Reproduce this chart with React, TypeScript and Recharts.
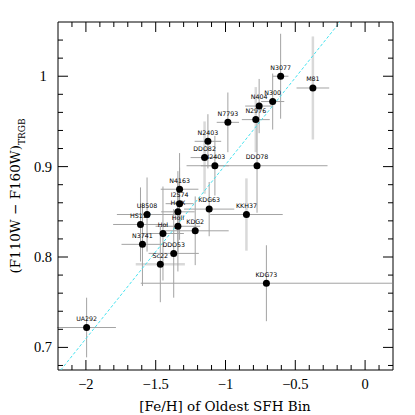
import { ComposedChart, Scatter, XAxis, YAxis, ErrorBar } from 'recharts';

// galaxies, in the order
const galaxies = ['UA292', 'N3741', 'HS117', 'U8508', 'HoI', 'DDO53', 'Sc22', 'N4163', 'I2574', 'HoIX', 'HoII', 'KDG2', 'KDG63', 'KKH37', 'KDG73', 'DDO78', 'N2403', 'DDO82', 'N2403', 'N7793', 'N2976', 'N404', 'N300', 'N3077', 'M81'];
const feh = [-1.995, -1.595, -1.609, -1.562, -1.448, -1.371, -1.467, -1.329, -1.329, -1.341, -1.341, -1.217, -1.117, -0.85, -0.707, -0.774, -1.076, -1.15, -1.126, -0.983, -0.783, -0.759, -0.662, -0.605, -0.374];
const trgbColor = [0.722, 0.814, 0.836, 0.847, 0.826, 0.804, 0.792, 0.875, 0.859, 0.85, 0.834, 0.829, 0.853, 0.847, 0.771, 0.901, 0.901, 0.91, 0.928, 0.949, 0.952, 0.967, 0.972, 1.0, 0.987];
const fehErr = [0.21, 0.15, 0.196, 0.216, 0.15, 0.18, 0.176, 0.135, 0.1, 0.12, 0.16, 0.24, 0.18, 0.26, 0.9, 0.505, 0.1, 0.1, 0.095, 0.08, 0.1, 0.1, 0.083, 0.056, 0.117];
const colorErr = [0.033, 0.046, 0.041, 0.041, 0.052, 0.049, 0.042, 0.04, 0.04, 0.045, 0.05, 0.038, 0.03, 0.04, 0.042, 0.052, 0.033, 0.04, 0.03, 0.033, 0.036, 0.03, 0.031, 0.047, 0.057];
// bars drawn in the pale grey
const faintFehErr = ['Sc22'];
const faintColorErr = ['DDO82', 'N2976', 'KKH37', 'M81'];

// dashed reference line
const fitFeh = [-2.18, -0.18];
const fitColor = [0.675, 1.06];

const xTicks = [-2.1, -2, -1.9, -1.8, -1.7, -1.6, -1.5, -1.4, -1.3, -1.2, -1.1, -1, -0.9, -0.8, -0.7, -0.6, -0.5, -0.4, -0.3, -0.2, -0.1, 0, 0.1];
const yTicks = [0.68, 0.7, 0.72, 0.74, 0.76, 0.78, 0.8, 0.82, 0.84, 0.86, 0.88, 0.9, 0.92, 0.94, 0.96, 0.98, 1, 1.02, 1.04];

const points = galaxies.map((name, i) => ({
    name,
    x: feh[i],
    y: trgbColor[i],
    ex: fehErr[i],
    ey: colorErr[i],
    faintX: faintFehErr.includes(name),
    faintY: faintColorErr.includes(name),
}));
const fitData = fitFeh.map((x, i) => ({ x, y: fitColor[i] }));

const TICK_FONT = 'Liberation Serif';
const TITLE_FONT = 'DejaVu Serif';
const DARK_BAR = '#a3a3a3';
const PALE_BAR = '#d9d9d9';

const isMajorX = (v: number) => Math.abs(v * 2 - Math.round(v * 2)) < 1e-6;
const isMajorY = (v: number) => Math.abs(v * 10 - Math.round(v * 10)) < 1e-6;
const fmtX = (v: number) => (v < 0 ? '\u2212' + String(Math.abs(v)) : String(v));
const fmtY = (v: number) => (Math.abs(v - 1) < 1e-6 ? '1' : v.toFixed(1));

const BottomTick = (p: any) => {
    const v = p.payload.value;
    const major = isMajorX(v);
    return (
        <g>
            <line x1={p.x} x2={p.x} y1={p.y} y2={p.y - (major ? 10 : 5)} stroke="#000" />
            {major && (
                <text x={p.x} y={p.y + 19} textAnchor="middle" fontFamily={TICK_FONT} fontSize={14.5} fill="#000">
                    {fmtX(v)}
                </text>
            )}
        </g>
    );
};
const TopTick = (p: any) => {
    const major = isMajorX(p.payload.value);
    return <line x1={p.x} x2={p.x} y1={p.y} y2={p.y + (major ? 10 : 5)} stroke="#000" />;
};
const LeftTick = (p: any) => {
    const v = p.payload.value;
    const major = isMajorY(v);
    return (
        <g>
            <line x1={p.x} x2={p.x + (major ? 10 : 5)} y1={p.y} y2={p.y} stroke="#000" />
            {major && (
                <text x={p.x - 15} y={p.y + 5} textAnchor="middle" fontFamily={TICK_FONT} fontSize={14.5} fill="#000">
                    {fmtY(v)}
                </text>
            )}
        </g>
    );
};
const RightTick = (p: any) => {
    const major = isMajorY(p.payload.value);
    return <line x1={p.x} x2={p.x - (major ? 10 : 5)} y1={p.y} y2={p.y} stroke="#000" />;
};

const Dot = (p: any) => <circle cx={p.cx} cy={p.cy} r={3.5} fill="#000" />;
const Name = (p: any) => (
    <text x={p.cx} y={p.cy - 6.7} textAnchor="middle" fontFamily="DejaVu Sans" fontSize={6.3} fill="#000">
        {p.payload.name}
    </text>
);
const Nothing = () => <g />;

export default function App() {
    return (
        <ComposedChart width={400} height={407} margin={{ top: 0, right: 0, bottom: 0, left: 0 }}>
            <XAxis xAxisId="b" type="number" dataKey="x" domain={[-2.2, 0.2]} allowDataOverflow ticks={xTicks} interval={0}
                tickSize={0} tickMargin={0} tickLine={false} tick={BottomTick} height={45} axisLine={{ stroke: '#000' }} />
            <XAxis xAxisId="t" orientation="top" type="number" dataKey="x" domain={[-2.2, 0.2]} allowDataOverflow ticks={xTicks} interval={0}
                tickSize={0} tickMargin={0} tickLine={false} tick={TopTick} height={14} axisLine={{ stroke: '#000' }} />
            <YAxis yAxisId="l" type="number" dataKey="y" domain={[0.675, 1.06]} allowDataOverflow ticks={yTicks} interval={0}
                tickSize={0} tickMargin={0} tickLine={false} tick={LeftTick} width={50} axisLine={{ stroke: '#000' }} />
            <YAxis yAxisId="r" orientation="right" type="number" dataKey="y" domain={[0.675, 1.06]} allowDataOverflow ticks={yTicks} interval={0}
                tickSize={0} tickMargin={0} tickLine={false} tick={RightTick} width={15} axisLine={{ stroke: '#000' }} />

            {/* pale error bars underneath */}
            <Scatter xAxisId="b" yAxisId="l" data={points} shape={Nothing} isAnimationActive={false}>
                <ErrorBar dataKey={(d: any) => (d.faintX ? d.ex : 0)} direction="x" width={0} stroke={PALE_BAR} strokeWidth={2.5} isAnimationActive={false} />
                <ErrorBar dataKey={(d: any) => (d.faintY ? d.ey : 0)} direction="y" width={0} stroke={PALE_BAR} strokeWidth={2.5} isAnimationActive={false} />
            </Scatter>
            <Scatter xAxisId="b" yAxisId="l" data={points} shape={Nothing} isAnimationActive={false}>
                <ErrorBar dataKey={(d: any) => (d.faintX ? 0 : d.ex)} direction="x" width={0} stroke={DARK_BAR} strokeWidth={1} isAnimationActive={false} />
                <ErrorBar dataKey={(d: any) => (d.faintY ? 0 : d.ey)} direction="y" width={0} stroke={DARK_BAR} strokeWidth={1} isAnimationActive={false} />
            </Scatter>

            <Scatter xAxisId="b" yAxisId="l" data={fitData} shape={Nothing} isAnimationActive={false}
                line={{ stroke: '#45e3f0', strokeWidth: 1, strokeDasharray: '3 2' }} />

            <Scatter xAxisId="b" yAxisId="l" data={points} shape={Dot} isAnimationActive={false} />
            <Scatter xAxisId="b" yAxisId="l" data={points} shape={Name} isAnimationActive={false} />

            <text x={217} y={403} textAnchor="middle" fontFamily={TITLE_FONT} fontSize={13.5} fill="#000">
                [Fe/H] of Oldest SFH Bin
            </text>
            <text transform="translate(12,188) rotate(-90)" textAnchor="middle" fontFamily={TITLE_FONT} fontSize={13.5} fill="#000">
                (F110W {'\u2212'} F160W)<tspan fontSize={9} dy={5}>TRGB</tspan>
            </text>
        </ComposedChart>
    );
}
